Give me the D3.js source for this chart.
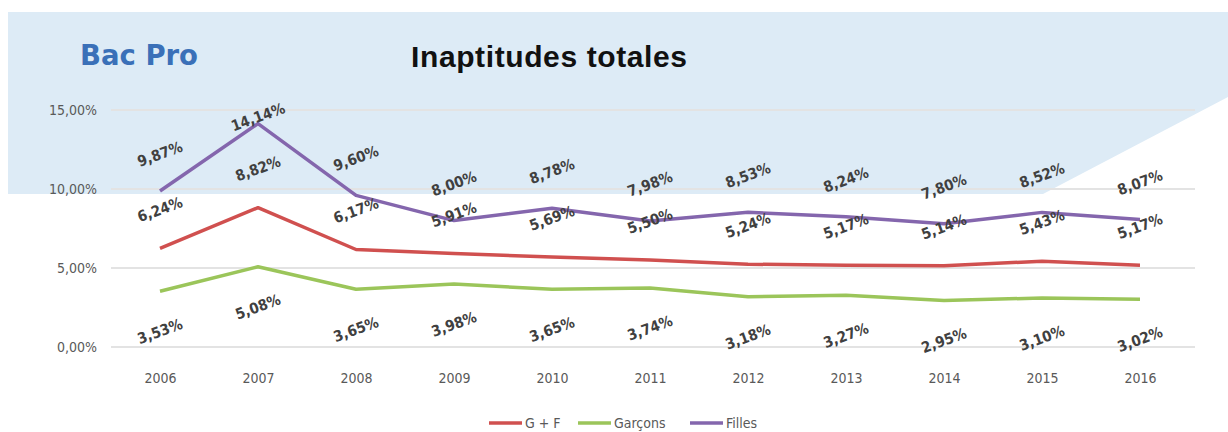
<!DOCTYPE html>
<html><head><meta charset="utf-8">
<script src="https://cdn.jsdelivr.net/npm/d3@7"></script>
<style>
html,body{margin:0;padding:0;background:#fff;}
svg{display:block;}
</style></head>
<body>
<svg id="chart" width="1228" height="432"></svg>
<script>
const years = ["2006","2007","2008","2009","2010","2011","2012","2013","2014","2015","2016"];
const gf      = [6.24, 8.82, 6.17, 5.91, 5.69, 5.50, 5.24, 5.17, 5.14, 5.43, 5.17];
const garcons = [3.53, 5.08, 3.65, 3.98, 3.65, 3.74, 3.18, 3.27, 2.95, 3.10, 3.02];
const filles  = [9.87, 14.14, 9.60, 8.00, 8.78, 7.98, 8.53, 8.24, 7.80, 8.52, 8.07];
const yTicks = [0, 5, 10, 15];
const seriesNames = ["G + F", "Garçons", "Filles"];
const seriesColors = ["#d0504f", "#9bc55a", "#8466ad"];

const series = [
  {name: seriesNames[0], values: gf, color: seriesColors[0], off: -39},
  {name: seriesNames[1], values: garcons, color: seriesColors[1], off: 40},
  {name: seriesNames[2], values: filles, color: seriesColors[2], off: -37}
];

const svg = d3.select("#chart");
const fmt = v => v.toFixed(2).replace(".", ",") + "%";
const labelFont = "'DejaVu Sans Condensed',sans-serif";
const axisFont = "'DejaVu Sans Condensed',sans-serif";

// background panel
svg.append("path")
  .attr("d", "M8,12 L1228,12 L1228,97 L1043,194 L8,194 Z")
  .attr("fill", "#ddebf6");

const x = d3.scalePoint().domain(years).range([160, 1140]);
const y = d3.scaleLinear().domain([0, 15]).range([347, 110]);

// grid
svg.append("g").selectAll("line").data(yTicks).join("line")
  .attr("x1", 111).attr("x2", 1195)
  .attr("y1", d => y(d)).attr("y2", d => y(d))
  .attr("stroke", "#e3e3e3").attr("stroke-width", 2);

// y axis labels
const yAxis = d3.axisLeft(y).tickValues(yTicks).tickSize(0).tickPadding(0).tickFormat(fmt);
const ya = svg.append("g").attr("transform", "translate(97,0)").call(yAxis);
ya.select(".domain").remove();
ya.selectAll("text").attr("font-family", axisFont).attr("font-size", 14).attr("fill", "#595959").attr("dy", "0.35em");

// x axis labels
const xAxis = d3.axisBottom(x).tickSize(0).tickPadding(0);
const xa = svg.append("g").attr("transform", "translate(0,378)").call(xAxis);
xa.select(".domain").remove();
xa.selectAll("text").attr("font-family", axisFont).attr("font-size", 14).attr("fill", "#595959").attr("dy", "0.35em");

// lines
const line = d3.line().x((d, i) => x(years[i])).y(d => y(d));
series.forEach(s => {
  svg.append("path").datum(s.values)
    .attr("d", line).attr("fill", "none")
    .attr("stroke", s.color).attr("stroke-width", 3.5)
    .attr("stroke-linejoin", "round");
});

// data labels
series.forEach(s => {
  svg.append("g").selectAll("text").data(s.values).join("text")
    .attr("transform", (d, i) => {
      const ly = Math.max(y(d) + s.off, y(15) + 7);
      return `translate(${x(years[i])},${ly}) rotate(-20)`;
    })
    .attr("text-anchor", "middle").attr("dy", "0.35em")
    .attr("font-family", labelFont).attr("font-weight", "bold")
    .attr("font-size", 15).attr("fill", "#404040")
    .text(d => fmt(d));
});

// titles
svg.append("text").attr("x", 80).attr("y", 65)
  .attr("font-family", "'DejaVu Sans',sans-serif").attr("font-weight", "bold")
  .attr("font-size", 27.5).attr("fill", "#3a70b8").text("Bac Pro");
svg.append("text").attr("x", 411).attr("y", 67)
  .attr("font-family", "'Liberation Sans',Arial,sans-serif").attr("font-weight", "bold")
  .attr("font-size", 30).attr("fill", "#111").attr("textLength", 276).text("Inaptitudes totales");

// legend
const legX = [489, 578, 690];
const leg = svg.append("g");
series.forEach((s, i) => {
  leg.append("line").attr("x1", legX[i]).attr("x2", legX[i] + 33)
    .attr("y1", 423).attr("y2", 423).attr("stroke", s.color).attr("stroke-width", 3.5);
  leg.append("text").attr("x", legX[i] + 36).attr("y", 423).attr("dy", "0.35em")
    .attr("font-family", axisFont).attr("font-size", 14).attr("fill", "#595959").text(s.name);
});
</script>
</body></html>
